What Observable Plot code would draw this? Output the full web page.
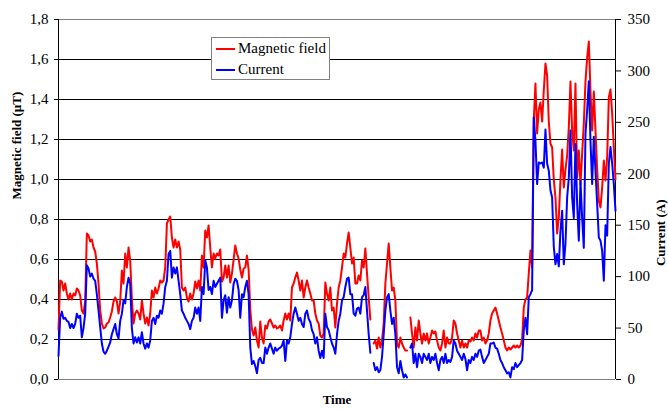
<!DOCTYPE html>
<html>
<head>
<meta charset="utf-8">
<script src="https://cdn.jsdelivr.net/npm/d3@7"></script>
<script src="https://cdn.jsdelivr.net/npm/@observablehq/plot@0.6"></script>
<style>
  body { margin: 0; background: #fff; }
  #wrap { position: relative; width: 668px; height: 410px; background: #fff; }
  #wrap svg text { font-family: "Liberation Serif", "Times New Roman", serif !important; }
  #legend { position: absolute; left: 211px; top: 37px; width: 119px; height: 43px; box-sizing: border-box;
            border: 1px solid #808080; background: #fff; font-family: "Liberation Serif", serif; font-size: 15px; color: #000; }
  .row { position: absolute; left: 0; height: 20px; width: 100%; }
  .sw { position: absolute; left: 4px; width: 19px; height: 2px; }
  .lab { position: absolute; left: 26px; white-space: nowrap; line-height: 15px; }
</style>
</head>
<body>
<div id="wrap">
  <div id="legend">
    <div class="row" style="top:0px"><div class="sw" style="top:10px;background:#ff0000"></div><div class="lab" style="top:3px">Magnetic field</div></div>
    <div class="row" style="top:21px"><div class="sw" style="top:10px;background:#0000ff"></div><div class="lab" style="top:3px">Current</div></div>
  </div>
</div>
<script>
// Magnetic field (µT), sampled left to right
const magneticField = [
  0.25,0.495,0.49,0.445,0.48,0.43,0.40,0.43,0.40,0.43,0.42,0.455,0.445,0.42,0.345,0.33,0.39,0.73,0.72,0.69,0.70,0.66,0.64,0.58,0.48,0.345,0.28,0.255,0.26,0.28,0.285,0.31,0.34,0.39,0.41,0.39,0.33,0.39,0.545,0.48,0.63,0.56,0.66,0.595,
  0.40,0.28,0.33,0.345,0.33,0.30,0.395,0.33,0.28,0.31,0.27,0.33,0.445,0.41,0.46,0.43,0.455,0.495,0.485,0.495,0.56,0.78,0.80,0.815,0.71,0.66,0.70,0.66,0.69,0.65,0.46,0.445,0.46,0.41,0.39,0.43,0.40,0.43,0.49,0.455,0.495,0.445,
  0.62,0.56,0.745,0.71,0.77,0.66,0.56,0.63,0.605,0.63,0.62,0.65,0.49,0.51,0.57,0.51,0.57,0.485,0.53,0.60,0.67,0.63,0.605,0.55,0.51,0.555,0.56,0.62,0.55,0.35,0.25,0.22,0.26,0.195,0.16,0.29,0.21,0.18,0.27,0.255,0.29,0.30,
  0.28,0.26,0.27,0.255,0.26,0.27,0.245,0.295,0.33,0.30,0.33,0.295,0.46,0.48,0.51,0.535,0.495,0.445,0.495,0.41,0.46,0.495,0.46,0.43,0.395,0.395,0.33,0.295,0.28,0.22,0.21,0.23,0.485,0.43,0.395,0.46,0.345,0.36,0.26,0.38,0.46,0.495,
  0.56,0.63,0.61,0.68,0.735,0.66,0.58,0.61,0.48,0.48,0.52,0.495,0.595,0.56,0.655,0.53,0.41,0.30,null,0.18,0.195,0.155,0.21,0.16,0.195,0.28,0.48,0.58,0.68,0.56,0.445,0.46,0.395,0.18,0.16,0.21,0.18,0.16,0.145,0.145,null,0.31,
  0.23,0.16,0.26,0.195,0.295,0.23,0.18,0.23,0.195,0.23,0.18,0.21,0.245,0.23,0.24,0.195,0.16,0.145,0.18,0.245,0.16,0.21,0.18,0.18,0.21,0.295,0.28,0.23,0.195,0.16,0.195,0.16,0.18,0.16,0.195,0.19,0.21,0.195,0.23,0.21,0.245,0.245,
  0.195,0.21,0.18,0.195,0.23,0.295,0.33,0.345,0.36,0.33,0.295,0.26,0.23,0.195,0.16,0.145,0.16,0.15,0.16,0.17,0.16,0.17,0.16,0.17,
  0.20,0.36,0.40,0.41,0.53,0.645,0.56,1.30,1.48,1.23,1.35,1.385,1.29,1.445,1.58,1.52,1.29,1.18,1.16,1.0,0.91,0.73,0.81,1.0,1.15,0.96,1.05,1.12,1.26,1.49,1.245,1.145,1.48,1.01,1.145,0.975,1.13,1.28,1.49,1.61,1.69,1.44,1.245,1.44,1.245,1.05,0.895,0.86,0.96,1.095,0.995,1.11,1.41,1.45,1.33,1.16,1.0
];
// Current (A), same sampling
const current = [
  23,60,66,59,60,57,56,50,54,50,54,64,60,62,41,50,64,111,108,100,103,98,96,83,67,51,35,27,25,28,32,36,44,49,54,44,40,57,64,77,74,90,99,93,
  50,35,41,36,41,35,46,35,30,35,31,38,57,60,54,62,60,67,64,74,90,96,122,125,99,109,103,109,96,83,67,64,60,57,54,49,57,60,70,64,70,57,
  90,83,116,109,87,90,83,96,90,93,96,99,60,77,82,65,80,70,77,93,98,96,87,60,83,80,90,96,83,31,15,18,13,6,19,21,16,16,31,25,31,35,
  30,25,31,28,30,31,33,38,18,38,35,41,54,64,70,64,57,60,54,51,64,67,59,56,48,44,35,41,28,21,28,21,64,51,48,41,35,31,25,44,57,64,
  77,80,90,98,99,83,83,64,62,69,70,64,80,82,90,67,44,26,null,16,9,12,7,9,22,44,67,80,83,67,54,60,44,12,6,18,9,2,5,2,null,31,
  35,16,25,12,25,22,16,25,22,19,25,16,22,19,25,16,9,19,22,16,25,16,19,17,22,38,35,28,25,22,19,25,20,9,19,16,22,19,25,22,28,29,
  22,16,19,22,25,35,35,36,31,30,25,19,16,12,9,6,7,2,12,10,16,12,14,16,
  19,48,60,44,80,83,87,255,232,190,211,210,211,206,243,210,203,184,177,129,112,122,110,145,164,112,132,177,196,242,177,157,229,171,135,193,157,128,239,262,290,232,190,236,203,171,138,135,125,96,150,140,210,226,210,190,164
];
const fieldTicks = [0, 0.2, 0.4, 0.6, 0.8, 1.0, 1.2, 1.4, 1.6, 1.8];
const currentTicks = [0, 50, 100, 150, 200, 250, 300, 350];
const fieldMax = 1.8, currentMax = 350;
const k = fieldMax / currentMax; // maps amps onto the field scale (dual axis)
const n = magneticField.length;
const idx = d3.range(n);
const innerGrid = fieldTicks.filter(d => d > 0 && d < fieldMax);
const serif = "Liberation Serif";

const chart = Plot.plot({
  width: 668, height: 410,
  marginTop: 19, marginBottom: 31, marginLeft: 58, marginRight: 53,
  x: {domain: [0, n - 1], axis: null},
  y: {domain: [0, fieldMax], axis: null},
  style: {fontFamily: serif, fontSize: "15px", background: "white", color: "black"},
  marks: [
    Plot.ruleY(innerGrid, {stroke: "#000", strokeWidth: 1}),
    Plot.ruleY([0, fieldMax], {stroke: "#808080", strokeWidth: 1}),
    Plot.ruleX([0], {stroke: "#000", strokeWidth: 1}),
    Plot.ruleX([n - 1], {stroke: "#000", strokeWidth: 1}),
    Plot.axisY(fieldTicks, {anchor: "left", tickSize: 4, tickPadding: 6, label: null, fontSize: 15, fontFamily: serif,
      tickFormat: d => d.toFixed(1).replace(".", ",")}),
    Plot.axisY(currentTicks.map(a => a * k), {anchor: "right", tickSize: 5, tickPadding: 7, label: null, fontSize: 15, fontFamily: serif,
      tickFormat: d => String(Math.round(d / k))}),
    Plot.lineY(idx, {x: i => i, y: i => magneticField[i] == null ? NaN : magneticField[i], stroke: "#ff0000", strokeWidth: 2}),
    Plot.lineY(idx, {x: i => i, y: i => current[i] == null ? NaN : current[i] * k, stroke: "#0000ff", strokeWidth: 2}),
    Plot.text(["Magnetic field (µT)"], {text: d => d, frameAnchor: "left", dx: -42, rotate: -90, fontWeight: "bold", fontSize: 13, fontFamily: serif}),
    Plot.text(["Current (A)"], {text: d => d, frameAnchor: "right", dx: 45, rotate: -90, fontWeight: "bold", fontSize: 13, fontFamily: serif}),
    Plot.text(["Time"], {text: d => d, frameAnchor: "bottom", dy: 24, fontWeight: "bold", fontSize: 13, fontFamily: serif})
  ]
});
document.getElementById("wrap").insertBefore(chart, document.getElementById("legend"));
chart.style.position = "absolute";
chart.style.left = "0px";
chart.style.top = "0px";
</script>
</body>
</html>
